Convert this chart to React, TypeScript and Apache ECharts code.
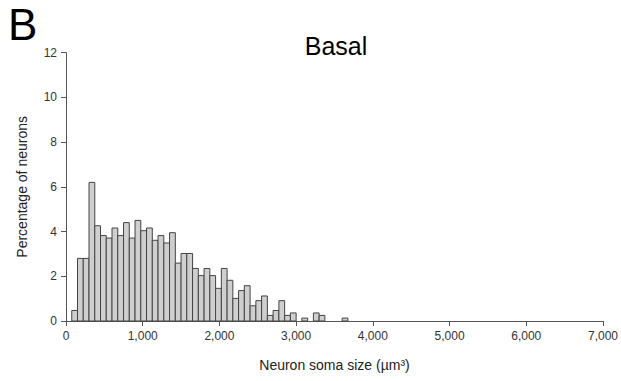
import React, { useEffect, useRef } from "react";
import * as echarts from "echarts";

// Histogram bins: left edge of each 75 µm³ bin
const binStarts = [
  75, 150, 225, 300, 375, 450, 525, 600, 675, 750, 825, 900, 975, 1050, 1125, 1200,
  1275, 1350, 1425, 1500, 1575, 1650, 1725, 1800, 1875, 1950, 2025, 2100, 2175, 2250,
  2325, 2400, 2475, 2550, 2625, 2700, 2775, 2850, 2925, 3000, 3075, 3150, 3225, 3300,
  3375, 3450, 3525, 3600,
];
const binWidth = 75;
// Percentage of neurons in each bin
const percentages = [
  0.47, 2.8, 2.8, 6.2, 4.26, 3.82, 3.71, 4.16, 3.82, 4.4, 3.71, 4.5, 4.04, 4.16, 3.61, 3.82,
  3.49, 3.95, 2.59, 3.02, 3.02, 2.35, 2.03, 2.35, 2.03, 1.46, 2.35, 1.82, 1.01, 1.36,
  1.58, 0.68, 0.91, 1.12, 0.25, 0.47, 0.91, 0.25, 0.36, 0, 0.13, 0, 0.36, 0.25,
  0, 0, 0, 0.13,
];
const xTicks = [0, 1000, 2000, 3000, 4000, 5000, 6000, 7000];
const yTicks = [0, 2, 4, 6, 8, 10, 12];

const FONT = "Liberation Sans, Arial, sans-serif";

export default function App() {
  const ref = useRef<HTMLDivElement>(null);
  useEffect(() => {
    if (!ref.current) return;
    const chart = echarts.init(ref.current, null, { renderer: "svg" });
    const data = binStarts
      .map((s, i) => [s, s + binWidth, percentages[i]])
      .filter((d) => d[2] > 0);
    chart.setOption({
      animation: false,
      backgroundColor: "#ffffff",
      textStyle: { fontFamily: FONT },
      grid: { left: 66, right: 16, top: 52.7, bottom: 60, containLabel: false },
      graphic: [
        {
          type: "text",
          left: 8,
          top: 2,
          style: { text: "B", fontSize: 44, fontFamily: FONT, fill: "#000" },
        },
        {
          type: "text",
          x: 336,
          y: 33,
          style: {
            text: "Basal",
            fontSize: 25,
            fontFamily: FONT,
            fill: "#000",
            textAlign: "center",
            textVerticalAlign: "top",
          },
        },
      ],
      xAxis: {
        type: "value",
        min: xTicks[0],
        max: xTicks[xTicks.length - 1],
        interval: 1000,
        name: "Neuron soma size (µm³)",
        nameLocation: "middle",
        nameGap: 37,
        nameTextStyle: { fontSize: 14, color: "#222", fontFamily: FONT },
        axisLine: { show: true, lineStyle: { color: "#555", width: 1 } },
        axisTick: { show: true, length: 5, lineStyle: { color: "#555" } },
        axisLabel: {
          fontSize: 12,
          color: "#333",
          margin: 9,
          formatter: (v: number) => v.toLocaleString("en-US"),
        },
        splitLine: { show: false },
      },
      yAxis: {
        type: "value",
        min: yTicks[0],
        max: yTicks[yTicks.length - 1],
        interval: 2,
        name: "Percentage of neurons",
        nameLocation: "middle",
        nameGap: 37,
        nameTextStyle: { fontSize: 14, color: "#222", fontFamily: FONT },
        axisLine: { show: true, lineStyle: { color: "#555", width: 1 } },
        axisTick: { show: true, length: 5, lineStyle: { color: "#555" } },
        axisLabel: { fontSize: 12, color: "#333", margin: 9 },
        splitLine: { show: false },
      },
      series: [
        {
          type: "custom",
          data,
          encode: { x: [0, 1], y: 2 },
          renderItem: (params: any, api: any) => {
            const p0 = api.coord([api.value(0), api.value(2)]);
            const p1 = api.coord([api.value(1), 0]);
            return {
              type: "rect",
              shape: { x: p0[0], y: p0[1], width: p1[0] - p0[0], height: p1[1] - p0[1] },
              style: { fill: "#cfcfcf", stroke: "#444", lineWidth: 1 },
            };
          },
        },
      ],
    });
    return () => chart.dispose();
  }, []);
  return (
    <div
      ref={ref}
      style={{ position: "fixed", left: 0, top: 0, width: 621, height: 381 }}
    />
  );
}
